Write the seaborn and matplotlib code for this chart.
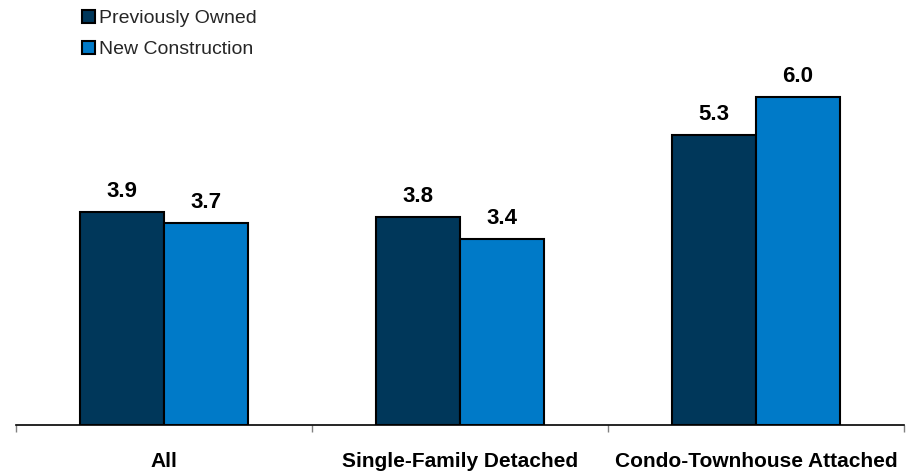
import matplotlib
matplotlib.use("Agg")
import matplotlib.pyplot as plt
import seaborn as sns
import pandas as pd
from matplotlib.patches import Patch

categories = ["All", "Single-Family Detached", "Condo-Townhouse Attached"]
series_names = ["Previously Owned", "New Construction"]
previously_owned = [3.9, 3.8, 5.3]
new_construction = [3.7, 3.4, 6.0]
colors = ["#00375A", "#007AC8"]

df = pd.DataFrame({
    "category": categories * 2,
    "series": [series_names[0]] * 3 + [series_names[1]] * 3,
    "value": previously_owned + new_construction,
})

sns.set_theme(style="white")
plt.rcParams["font.family"] = ["Liberation Sans", "DejaVu Sans"]

fig = plt.figure(figsize=(9.15, 4.73), dpi=100)
ax = fig.add_axes([16 / 915, 48 / 473, 888 / 915, 385 / 473])

sns.barplot(data=df, x="category", y="value", hue="series", order=categories,
            hue_order=series_names, palette=colors, width=0.568, gap=0,
            edgecolor="black", linewidth=1.5, legend=False, ax=ax, saturation=1)

for cont in ax.containers:
    ax.bar_label(cont, fmt="%.1f", padding=7, fontsize=16, fontweight="bold",
                 color="black")

ax.set_xlim(-0.5, 2.5)
ax.set_ylim(0, 7.04)
ax.set_xlabel("")
ax.set_ylabel("")
ax.set_yticks([])
for s in ["top", "right", "left"]:
    ax.spines[s].set_visible(False)
ax.spines["bottom"].set_color("black")
ax.spines["bottom"].set_linewidth(1.2)

ax.set_xticks(range(len(categories)))
ax.set_xticklabels(categories, fontsize=15, fontweight="bold", color="black")
ax.tick_params(axis="x", which="major", length=0, pad=19.5)
ax.set_xticks([-0.5, 0.5, 1.5, 2.5], minor=True)
ax.tick_params(axis="x", which="minor", length=5, width=1, color="#808080",
               direction="out", bottom=True)

handles = [Patch(facecolor=c, edgecolor="black", linewidth=1.5) for c in colors]
fig.legend(handles, series_names, loc="upper left", bbox_to_anchor=(78 / 915, 1.0 - 6 / 473),
           frameon=False, fontsize=14, handlelength=0.65, handleheight=0.65,
           handletextpad=0.25, labelspacing=0.7, borderaxespad=0, borderpad=0.2)

fig.savefig("out.png", dpi=100)
